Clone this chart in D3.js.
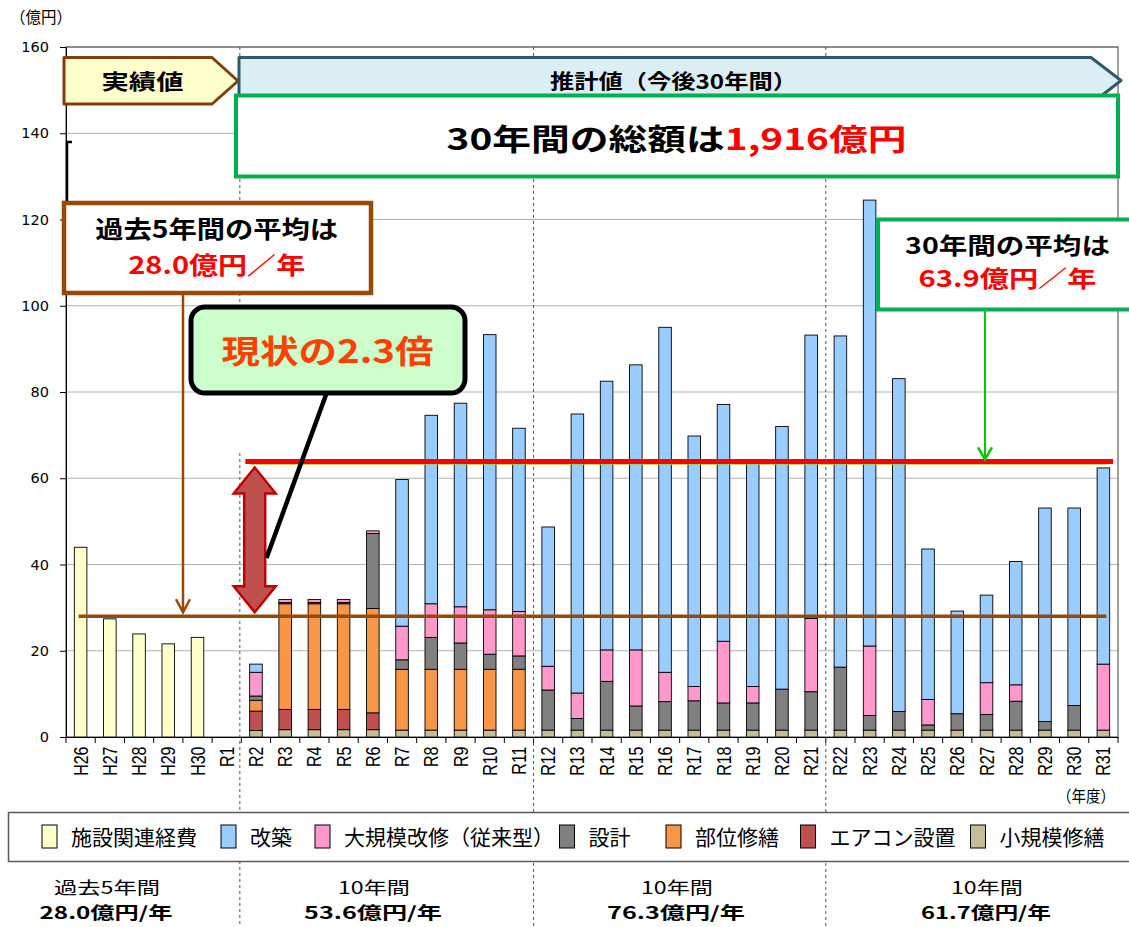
<!DOCTYPE html>
<html lang="ja">
<head>
<meta charset="utf-8">
<script src="https://cdn.jsdelivr.net/npm/d3@7"></script>
<style>
  html, body { margin: 0; padding: 0; background: #fff; }
  svg { display: block; font-family: "Noto Sans CJK JP", "Noto Sans", sans-serif; }
</style>
</head>
<body>
<svg id="chart" width="1129" height="927"></svg>
<script>
// 年度 (x categories)
const years = ['H26', 'H27', 'H28', 'H29', 'H30', 'R1',
  'R2', 'R3', 'R4', 'R5', 'R6', 'R7', 'R8', 'R9', 'R10', 'R11',
  'R12', 'R13', 'R14', 'R15', 'R16', 'R17', 'R18', 'R19', 'R20', 'R21',
  'R22', 'R23', 'R24', 'R25', 'R26', 'R27', 'R28', 'R29', 'R30', 'R31'];

// series values (億円), one per year
const facility = [44.0, 27.4, 23.9, 21.6, 23.1, 0,
  0, 0, 0, 0, 0, 0, 0, 0, 0, 0,
  0, 0, 0, 0, 0, 0, 0, 0, 0, 0,
  0, 0, 0, 0, 0, 0, 0, 0, 0, 0];
const small = [0, 0, 0, 0, 0, 0,
  1.5, 1.7, 1.7, 1.7, 1.7, 1.6, 1.6, 1.6, 1.6, 1.6,
  1.6, 1.6, 1.6, 1.6, 1.6, 1.6, 1.6, 1.6, 1.6, 1.6,
  1.6, 1.6, 1.6, 1.6, 1.6, 1.6, 1.6, 1.6, 1.6, 1.6];
const aircon = [0, 0, 0, 0, 0, 0,
  4.5, 4.7, 4.7, 4.7, 3.9, 0, 0, 0, 0, 0,
  0, 0, 0, 0, 0, 0, 0, 0, 0, 0,
  0, 0, 0, 0, 0, 0, 0, 0, 0, 0];
const part = [0, 0, 0, 0, 0, 0,
  2.5, 24.5, 24.5, 24.5, 24.2, 14.1, 14.1, 14.1, 14.1, 14.1,
  0, 0, 0, 0, 0, 0, 0, 0, 0, 0,
  0, 0, 0, 0, 0, 0, 0, 0, 0, 0];
const design = [0, 0, 0, 0, 0, 0,
  1.0, 0.3, 0.3, 0.3, 17.4, 2.2, 7.4, 6.1, 3.5, 3.1,
  9.3, 2.7, 11.3, 5.6, 6.6, 6.8, 6.3, 6.3, 9.5, 8.9,
  14.6, 3.4, 4.3, 1.2, 3.8, 3.6, 6.7, 2.0, 5.7, 0];
const major = [0, 0, 0, 0, 0, 0,
  5.5, 0.7, 0.7, 0.7, 0.6, 7.8, 7.8, 8.4, 10.3, 10.3,
  5.5, 5.9, 7.3, 13.0, 6.8, 3.3, 14.3, 3.8, 0, 17.0,
  0, 16.1, 0, 5.9, 0, 7.4, 3.8, 0, 0, 15.3];
const rebuild = [0, 0, 0, 0, 0, 0,
  1.9, 0, 0, 0, 0, 34.0, 43.7, 47.2, 63.8, 42.5,
  32.3, 64.7, 62.3, 66.1, 80.0, 58.1, 54.9, 52.0, 60.9, 65.7,
  76.8, 103.4, 77.2, 34.9, 23.8, 20.3, 28.6, 49.5, 45.8, 45.5];

const yTicks = [0, 20, 40, 60, 80, 100, 120, 140, 160];

// summary figures
const avg5 = 28.0;
const avg30 = 63.9;
const total30 = 1916;
const ratio = 2.3;
const periodNames = ['過去5年間', '10年間', '10年間', '10年間'];
const periodAvgs = [28.0, 53.6, 76.3, 61.7];

const keys = ['facility', 'small', 'aircon', 'part', 'design', 'major', 'rebuild'];
const seriesNames = {
  facility: '施設関連経費', rebuild: '改築', major: '大規模改修（従来型）', design: '設計',
  part: '部位修繕', aircon: 'エアコン設置', small: '小規模修繕'
};
const legendOrder = ['facility', 'rebuild', 'major', 'design', 'part', 'aircon', 'small'];
const colorMap = {
  facility: '#ffffcc', rebuild: '#99ccff', major: '#ff99cc', design: '#808080',
  part: '#f79646', aircon: '#c0504d', small: '#c4bd97'
};

const rows = years.map((yr, i) => ({
  year: yr, facility: facility[i], small: small[i], aircon: aircon[i], part: part[i],
  design: design[i], major: major[i], rebuild: rebuild[i]
}));

const svg = d3.select('#chart');
const plotLeft = 66, plotRight = 1118, plotTop = 47, plotBottom = 737;

const x = d3.scaleBand()
  .domain(years)
  .range([plotLeft, plotRight])
  .paddingInner(0.57)
  .paddingOuter(0.285);
const y = d3.scaleLinear()
  .domain([0, 160])
  .range([plotBottom, plotTop]);

const edge = (i) => plotLeft + i * x.step();
const mid = (yr) => x(yr) + x.bandwidth() / 2;

// text helper: optional horizontal stretch to a target width
function addText(parent, o) {
  const t = parent.append('text')
    .attr('text-anchor', o.anchor || 'middle')
    .attr('dy', '0.36em')
    .style('font-size', o.size + 'px')
    .style('font-weight', o.weight || 400)
    .style('font-family', o.family || null);
  (o.parts || [[o.text, o.fill || '#000']]).forEach(([s, c]) => {
    t.append('tspan').attr('fill', c).text(s);
  });
  let k = o.sx || 1;
  if (o.width) k = o.width / t.node().getComputedTextLength();
  t.attr('transform', `translate(${o.x},${o.y}) scale(${k},1)`);
  return t;
}

// GRID
svg.append('g')
  .selectAll('line')
  .data(yTicks.filter((d) => d > 0))
  .enter().append('line')
  .attr('x1', plotLeft).attr('x2', plotRight)
  .attr('y1', (d) => y(d)).attr('y2', (d) => y(d))
  .attr('stroke', '#b3b3b3');

svg.append('rect')
  .attr('x', plotLeft).attr('y', plotTop)
  .attr('width', plotRight - plotLeft).attr('height', plotBottom - plotTop)
  .attr('fill', 'none')
  .attr('stroke', '#404040');

// BARS
const stacked = d3.stack().keys(keys)(rows);
svg.append('g')
  .selectAll('g')
  .data(stacked)
  .enter().append('g')
  .attr('fill', (s) => colorMap[s.key])
  .selectAll('rect')
  .data((s) => s.filter((d) => d[1] - d[0] > 0))
  .enter().append('rect')
  .attr('x', (d) => x(d.data.year))
  .attr('width', x.bandwidth())
  .attr('y', (d) => y(d[1]))
  .attr('height', (d) => y(d[0]) - y(d[1]))
  .attr('stroke', '#000')
  .attr('stroke-width', 0.9);

// AXES
const yAxis = svg.append('g')
  .attr('transform', `translate(${plotLeft},0)`)
  .call(d3.axisLeft(y).tickValues(yTicks).tickSize(6).tickPadding(11).tickSizeOuter(0));
yAxis.select('.domain').attr('stroke', '#000');
yAxis.selectAll('text')
  .style('font-family', '"DejaVu Sans", sans-serif')
  .style('font-size', '14.5px')
  .attr('fill', '#000');

const xAxis = svg.append('g')
  .attr('transform', `translate(0,${plotBottom})`)
  .call(d3.axisBottom(x).tickSize(0).tickSizeOuter(0));
xAxis.select('.domain').attr('stroke', '#000');
xAxis.selectAll('text')
  .attr('y', 0)
  .attr('dy', '0.35em')
  .attr('text-anchor', 'end')
  .attr('transform', 'translate(0,9.5) rotate(-90) scale(1,1.25)')
  .style('font-family', '"Liberation Sans", Arial, sans-serif')
  .style('font-size', '16px')
  .attr('fill', '#000');

svg.append('g')
  .selectAll('line')
  .data(d3.range(years.length + 1))
  .enter().append('line')
  .attr('x1', edge).attr('x2', edge)
  .attr('y1', plotBottom).attr('y2', plotBottom + 6)
  .attr('stroke', '#000');

// period dividers
const dividers = [
  [edge(6) - 1.5, plotTop, 308], [edge(6) - 1.5, 453, 927],
  [edge(16), plotTop, 927], [edge(26), plotTop, 927]
];
svg.append('g')
  .selectAll('line')
  .data(dividers)
  .enter().append('line')
  .attr('x1', (d) => d[0]).attr('x2', (d) => d[0])
  .attr('y1', (d) => d[1]).attr('y2', (d) => d[2])
  .attr('stroke', '#555')
  .attr('stroke-dasharray', '3,3');

// AVERAGE LINES
svg.append('line')
  .attr('x1', mid('H26') - 2).attr('x2', mid('R31') + 3)
  .attr('y1', y(avg5)).attr('y2', y(avg5))
  .attr('stroke', '#984807').attr('stroke-width', 3.5);

svg.append('line')
  .attr('x1', edge(6) + 9).attr('x2', mid('R31') + 3)
  .attr('y1', y(avg30) + 2.5).attr('y2', y(avg30) + 2.5)
  .attr('stroke', '#92d050').attr('stroke-width', 1.5);
svg.append('line')
  .attr('x1', edge(6) + 4).attr('x2', plotRight - 5)
  .attr('y1', y(avg30)).attr('y2', y(avg30))
  .attr('stroke', '#ff0000').attr('stroke-width', 5);

// ANNOTATIONS
const ann = svg.append('g');

addText(ann, { x: 41, y: 17, size: 16, text: '（億円）', width: 62 });
addText(ann, { x: 1086, y: 796, size: 16, text: '（年度）', width: 58 });

// left bracket remnant
ann.append('path')
  .attr('d', 'M72,142 H67 V210')
  .attr('fill', 'none')
  .attr('stroke', '#000')
  .attr('stroke-width', 2.5);

// 実績値 / 推計値 arrows
ann.append('path')
  .attr('d', 'M64,57.5 H212 L238,81 L212,104 H64 Z')
  .attr('fill', '#ffffcc')
  .attr('stroke', '#7f3f0a')
  .attr('stroke-width', 3)
  .attr('stroke-linejoin', 'round');
addText(ann, { x: 142.5, y: 81, size: 21, weight: 700, text: '実績値', width: 82 });

ann.append('path')
  .attr('d', 'M239,57.5 H1091 L1121,80.5 L1091,104 H239 Z')
  .attr('fill', '#dbeef4')
  .attr('stroke', '#2f5a6c')
  .attr('stroke-width', 3)
  .attr('stroke-linejoin', 'round');
addText(ann, { x: 673.5, y: 81.5, size: 20, weight: 700, text: '推計値（今後30年間）', width: 247 });

// total box
ann.append('rect')
  .attr('x', 236).attr('y', 95.5).attr('width', 882).attr('height', 81)
  .attr('fill', '#fff')
  .attr('stroke', '#00b050').attr('stroke-width', 4);
addText(ann, {
  x: 676.5, y: 139, size: 30, weight: 700, width: 460,
  parts: [['30年間の総額は', '#000'], [d3.format(',')(total30) + '億円', '#ff0000']]
});

// past 5 years box + arrow
ann.append('line')
  .attr('x1', 183).attr('x2', 183).attr('y1', 293).attr('y2', y(avg5) - 5)
  .attr('stroke', '#984807').attr('stroke-width', 2.5);
ann.append('path')
  .attr('d', `M176,${y(avg5) - 17} L183,${y(avg5) - 4} L190,${y(avg5) - 17}`)
  .attr('fill', 'none')
  .attr('stroke', '#984807').attr('stroke-width', 2.5);
ann.append('rect')
  .attr('x', 64).attr('y', 203).attr('width', 307).attr('height', 90)
  .attr('fill', '#fff')
  .attr('stroke', '#984807').attr('stroke-width', 4.5);
addText(ann, { x: 216.7, y: 229.5, size: 24, weight: 700, text: '過去5年間の平均は', width: 243 });
addText(ann, {
  x: 216.7, y: 265, size: 24, weight: 700, width: 177,
  parts: [[avg5.toFixed(1) + '億円／年', '#ff0000']]
});

// 30 years average box + arrow
ann.append('line')
  .attr('x1', 985).attr('x2', 985).attr('y1', 310).attr('y2', y(avg30) - 3)
  .attr('stroke', '#00cc00').attr('stroke-width', 2);
ann.append('path')
  .attr('d', `M978,${y(avg30) - 14} L985,${y(avg30) - 2} L992,${y(avg30) - 14}`)
  .attr('fill', 'none')
  .attr('stroke', '#00cc00').attr('stroke-width', 2.5);
ann.append('rect')
  .attr('x', 878).attr('y', 219.5).attr('width', 270).attr('height', 90)
  .attr('fill', '#fff')
  .attr('stroke', '#00b050').attr('stroke-width', 4);
addText(ann, { x: 1007.5, y: 245.5, size: 23, weight: 700, text: '30年間の平均は', width: 205 });
addText(ann, {
  x: 1007.5, y: 278.5, size: 23, weight: 700, width: 178,
  parts: [[avg30.toFixed(1) + '億円／年', '#ff0000']]
});

// double arrow between the two averages
const ax = 254.7, aTop = y(avg30) + 6, aBot = y(avg5) - 4;
ann.append('path')
  .attr('d', `M${ax},${aTop} L${ax + 21},${aTop + 26} H${ax + 10.5} V${aBot - 26} H${ax + 21}
    L${ax},${aBot} L${ax - 21},${aBot - 26} H${ax - 10.5} V${aTop + 26} H${ax - 21} Z`)
  .attr('fill', '#c0504d')
  .attr('stroke', '#c00000')
  .attr('stroke-width', 2.5)
  .attr('stroke-linejoin', 'miter');

// callout
ann.append('line')
  .attr('x1', 327).attr('y1', 392).attr('x2', 266.5).attr('y2', 558)
  .attr('stroke', '#000').attr('stroke-width', 4.5);
ann.append('rect')
  .attr('x', 191).attr('y', 307).attr('width', 274).attr('height', 86)
  .attr('rx', 14)
  .attr('fill', '#ccffcc')
  .attr('stroke', '#000').attr('stroke-width', 5);
addText(ann, {
  x: 327.5, y: 351, size: 32, weight: 700, width: 212,
  parts: [['現状の' + ratio.toFixed(1) + '倍', '#ff4000']]
});

// LEGEND
svg.append('rect')
  .attr('x', 8.5).attr('y', 812.5).attr('width', 1140).attr('height', 49)
  .attr('fill', '#fff')
  .attr('stroke', '#595959').attr('stroke-width', 1.5);

const legendX = [42, 221, 315, 559.5, 666, 800.5, 970.5];
const legend = svg.append('g')
  .selectAll('g')
  .data(legendOrder)
  .enter().append('g')
  .attr('transform', (d, i) => `translate(${legendX[i]},825)`);
legend.append('rect')
  .attr('width', 15).attr('height', 23)
  .attr('fill', (d) => colorMap[d])
  .attr('stroke', '#000').attr('stroke-width', 1);
legend.each(function (d) {
  addText(d3.select(this), { x: 29, y: 12, size: 21, anchor: 'start', text: seriesNames[d] });
});

// PERIOD SUMMARY
const periodX = [107, 374, 677, 987];
const nameW = [106, 72, 72, 72];
const avgW = [133, 138, 138, 130];
periodNames.forEach((n, i) => {
  addText(svg, { x: periodX[i], y: 888, size: 17, text: n, width: nameW[i] });
  addText(svg, {
    x: periodX[i] - 1, y: 913, size: 17, weight: 700,
    text: periodAvgs[i].toFixed(1) + '億円/年', width: avgW[i]
  });
});
</script>
</body>
</html>
